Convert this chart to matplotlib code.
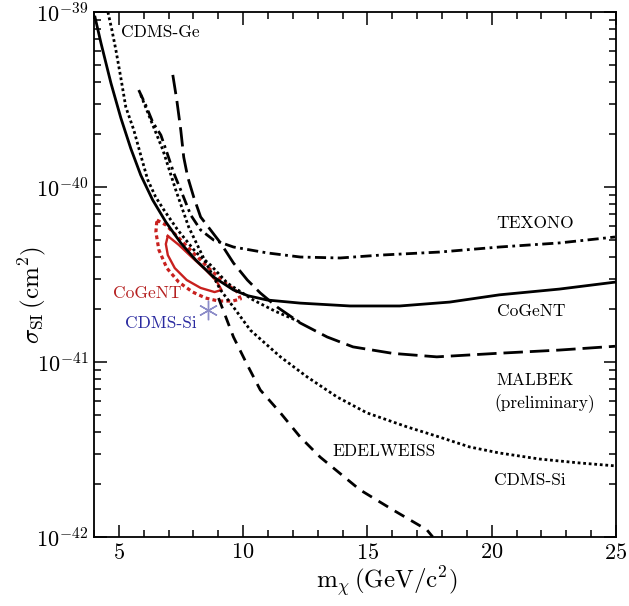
import numpy as np
import matplotlib
matplotlib.use('Agg')
import matplotlib.pyplot as plt
from matplotlib.ticker import MultipleLocator, LogLocator, NullFormatter

plt.rcParams['mathtext.fontset'] = 'cm'
plt.rcParams['font.family'] = ['cmr10', 'DejaVu Serif']
plt.rcParams['axes.formatter.use_mathtext'] = True

# limit curves, mass in GeV/c^2, cross section in cm^2
cogent_x = [4.04, 4.28, 4.68, 5.08, 5.48, 5.88, 6.36, 6.89, 7.49, 8.09, 8.81, 9.61,
            10.2, 10.97, 12.30, 14.30, 16.30, 18.31, 20.31, 22.72, 24.96]
cogent_y = [9.35e-40, 6.65e-40, 3.93e-40, 2.48e-40, 1.66e-40, 1.17e-40, 8.43e-41, 6.31e-41,
            4.79e-41, 3.83e-41, 3.06e-41, 2.58e-41, 2.39e-41, 2.26e-41, 2.17e-41, 2.09e-41,
            2.09e-41, 2.20e-41, 2.42e-41, 2.61e-41, 2.86e-41]

cdmsge_x = [4.56, 4.72, 4.88, 5.08, 5.28, 5.60, 5.88, 6.16, 6.48, 6.81, 7.37, 8.09,
            8.69, 9.37, 10.41, 11.29, 12.30]
cdmsge_y = [1.0e-39, 7.89e-40, 6.07e-40, 4.20e-40, 2.86e-40, 2.12e-40, 1.52e-40, 1.10e-40,
            8.77e-41, 7.40e-41, 5.68e-41, 4.25e-41, 3.58e-41, 2.82e-41, 2.26e-41, 1.95e-41,
            1.69e-41]

texono_x = [5.80, 6.08, 6.36, 6.69, 6.97, 7.21, 7.49, 7.89, 8.29, 8.81, 9.61, 10.97,
            12.30, 13.90, 15.50, 17.91, 20.31, 22.72, 24.96]
texono_y = [3.58e-40, 2.94e-40, 2.35e-40, 1.98e-40, 1.52e-40, 1.20e-40, 9.61e-41, 6.92e-41,
            5.68e-41, 4.98e-41, 4.54e-41, 4.20e-41, 3.98e-41, 3.93e-41, 4.08e-41, 4.25e-41,
            4.54e-41, 4.79e-41, 5.18e-41]

malbek_x = [7.17, 7.33, 7.49, 7.61, 7.77, 8.01, 8.29, 8.69, 9.09, 9.61, 10.17, 10.69,
            11.37, 12.30, 13.38, 14.42, 16.02, 17.79, 20.19, 22.72, 24.96]
malbek_y = [4.37e-40, 3.14e-40, 2.12e-40, 1.48e-40, 1.14e-40, 8.77e-41, 6.74e-41, 5.68e-41,
            4.79e-41, 3.68e-41, 2.94e-41, 2.48e-41, 2.06e-41, 1.67e-41, 1.39e-41, 1.22e-41,
            1.12e-41, 1.07e-41, 1.12e-41, 1.17e-41, 1.23e-41]

cdmssi_x = [5.88, 6.28, 6.77, 7.29, 7.81, 8.49, 9.09, 9.61, 10.29, 11.50, 12.58, 13.78,
            14.98, 16.59, 17.91, 19.11, 20.31, 21.92, 23.52, 24.96]
cdmssi_y = [3.36e-40, 2.42e-40, 1.63e-40, 9.61e-41, 5.90e-41, 3.72e-41, 2.58e-41, 2.06e-41,
            1.52e-41, 1.07e-41, 8.21e-42, 6.31e-42, 5.12e-42, 4.26e-42, 3.72e-42, 3.27e-42,
            3.02e-42, 2.79e-42, 2.65e-42, 2.55e-42]

edel_x = [9.01, 9.61, 10.17, 10.69, 11.50, 12.30, 13.10, 14.70, 16.02, 17.39, 17.63]
edel_y = [2.32e-41, 1.39e-41, 9.61e-42, 6.92e-42, 5.12e-42, 3.72e-42, 2.86e-42, 1.86e-42,
          1.43e-42, 1.10e-42, 1.0e-42]

# CoGeNT allowed regions (closed contours)
outer_x = [6.53, 6.89, 7.49, 8.09, 8.69, 9.29, 9.77, 9.89, 9.57, 9.01, 8.49, 7.97,
           7.41, 6.93, 6.61, 6.49, 6.53]
outer_y = [6.47e-41, 6.07e-41, 4.98e-41, 4.08e-41, 3.36e-41, 2.82e-41, 2.51e-41, 2.29e-41,
           2.23e-41, 2.23e-41, 2.32e-41, 2.51e-41, 2.86e-41, 3.44e-41, 4.37e-41, 5.53e-41,
           6.47e-41]
inner_x = [6.97, 7.41, 7.97, 8.49, 8.93, 9.13, 8.85, 8.29, 7.73, 7.25, 6.97, 6.89, 6.97]
inner_y = [5.25e-41, 4.67e-41, 3.93e-41, 3.36e-41, 2.90e-41, 2.58e-41, 2.51e-41, 2.65e-41,
           2.94e-41, 3.44e-41, 4.08e-41, 4.72e-41, 5.25e-41]

# CDMS-Si best fit point
cdmssi_pt_x = [8.6]
cdmssi_pt_y = [1.98e-41]

fig = plt.figure(figsize=(6.29, 6.06), dpi=100)
ax = fig.add_axes([94/629, 1-537/606, 522/629, 525/606])

lw = 2.0
ax.plot(outer_x, outer_y, color='#c8201e', linestyle=(0, (1.2, 1)), linewidth=2.3)
ax.plot(inner_x, inner_y, color='#c8201e', linestyle='-', linewidth=1.7)
ax.plot(cogent_x, cogent_y, color='black', linestyle='-', linewidth=lw)
ax.plot(cdmsge_x, cdmsge_y, color='black', linestyle=(0, (1, 1)), linewidth=lw)
ax.plot(cdmssi_x, cdmssi_y, color='black', linestyle=(0, (1, 1)), linewidth=lw)
ax.plot(texono_x, texono_y, color='black', linestyle=(0, (4, 1.6, 1, 1.6)), linewidth=lw)
ax.plot(malbek_x, malbek_y, color='black', linestyle=(0, (7, 2.5)), linewidth=lw)
ax.plot(edel_x, edel_y, color='black', linestyle=(0, (4, 2.8)), linewidth=lw)
ax.plot(cdmssi_pt_x, cdmssi_pt_y, linestyle='none', marker=(6, 2, 0), markersize=14,
        markeredgewidth=1.0, color='#8c8cc8')

ax.set_yscale('log')
ax.set_xlim(4, 25)
ax.set_ylim(1e-42, 1e-39)

ax.xaxis.set_major_locator(MultipleLocator(5))
ax.xaxis.set_minor_locator(MultipleLocator(1))
ax.yaxis.set_major_locator(LogLocator(base=10, numticks=10))
ax.yaxis.set_minor_locator(LogLocator(base=10, subs=np.arange(2, 10), numticks=20))
ax.yaxis.set_minor_formatter(NullFormatter())
ax.tick_params(which='both', direction='in', top=True, right=True, width=1.1)
ax.tick_params(which='major', length=9, labelsize=16, pad=4)
ax.tick_params(which='minor', length=5, labelleft=False, labelbottom=False)
for s in ax.spines.values():
    s.set_linewidth(1.3)

ax.set_xlabel(r'${\rm m}_\chi\,({\rm GeV/c}^2)$', fontsize=18)
ax.xaxis.set_label_coords(0.56, -0.052)
ax.set_ylabel(r'$\sigma_{\rm SI}\,({\rm cm}^2)$', fontsize=18)
ax.yaxis.set_label_coords(-0.088, 0.46)

ax.text(5.1, 7.2e-40, 'CDMS-Ge', fontsize=12.5)
ax.text(20.2, 5.8e-41, 'TEXONO', fontsize=12.5)
ax.text(20.2, 1.82e-41, 'CoGeNT', fontsize=12.5)
ax.text(20.2, 7.4e-42, 'MALBEK', fontsize=12.5)
ax.text(20.1, 5.45e-42, '(preliminary)', fontsize=12.5)
ax.text(13.6, 2.9e-42, 'EDELWEISS', fontsize=12.5)
ax.text(20.1, 1.97e-42, 'CDMS-Si', fontsize=12.5)
ax.text(4.75, 2.32e-41, 'CoGeNT', fontsize=12.5, color='#b52020')
ax.text(5.25, 1.57e-41, 'CDMS-Si', fontsize=12.5, color='#2a2aa0')

fig.savefig('out.png', dpi=100)
